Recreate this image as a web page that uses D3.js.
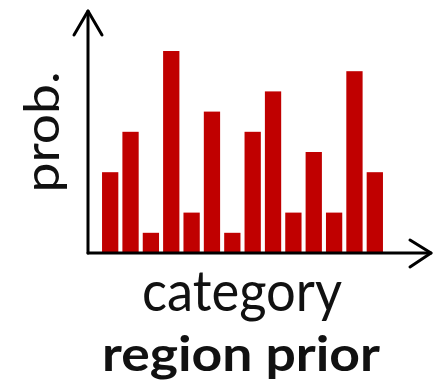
<!DOCTYPE html>
<html>
<head>
<meta charset="utf-8">
<script src="https://cdn.jsdelivr.net/npm/d3@7"></script>
<style>
  html, body { margin: 0; padding: 0; background: #fff; }
  svg { display: block; }
  text { font-family: Lato, "Open Sans", sans-serif; fill: #111; }
</style>
</head>
<body>
<svg id="chart" width="436" height="383"></svg>
<script>
// Category prior: relative probability of each region category
const categories = ["c1","c2","c3","c4","c5","c6","c7","c8","c9","c10","c11","c12","c13","c14"];
const probValues = [4, 6, 1, 10, 2, 7, 1, 6, 8, 2, 5, 2, 9, 4];
const yLabel = "prob.";
const xLabel = "category";
const title = "region prior";

const svg = d3.select("#chart");
const barColor = "#c00000";

const x = d3.scaleBand()
  .domain(categories)
  .range([100, 385])
  .paddingInner(0.2)
  .paddingOuter(0.1);

const y = d3.scaleLinear()
  .domain([0, 10])
  .range([253, 51]);

// bars
svg.append("g")
  .selectAll("rect")
  .data(probValues)
  .join("rect")
  .attr("x", (d, i) => x(categories[i]))
  .attr("width", x.bandwidth())
  .attr("y", d => y(d))
  .attr("height", d => y(0) - y(d))
  .attr("fill", barColor);

// axes drawn as arrows
const ox = 88, oy = y(0);
const axes = svg.append("g")
  .attr("fill", "none")
  .attr("stroke", "#000")
  .attr("stroke-width", 3)
  .attr("stroke-linecap", "round")
  .attr("stroke-linejoin", "round");

axes.append("path").attr("d", `M${ox},${oy} V11`);
axes.append("path").attr("d", `M74,35 L${ox},11 L102,35`);
axes.append("path").attr("d", `M${ox},${oy} H431`);
axes.append("path").attr("d", `M410,240 L431,${oy} L410,267`);

// labels
svg.append("text")
  .attr("transform", `translate(59,132) rotate(-90)`)
  .attr("text-anchor", "middle")
  .attr("font-size", 48)
  .attr("textLength", 121)
  .attr("lengthAdjust", "spacingAndGlyphs")
  .text(yLabel);

svg.append("text")
  .attr("x", 242)
  .attr("y", 311)
  .attr("text-anchor", "middle")
  .attr("font-size", 57)
  .attr("textLength", 200)
  .attr("lengthAdjust", "spacingAndGlyphs")
  .text(xLabel);

svg.append("text")
  .attr("x", 241)
  .attr("y", 371)
  .attr("text-anchor", "middle")
  .attr("font-size", 48)
  .attr("font-weight", "bold")
  .attr("textLength", 278)
  .attr("lengthAdjust", "spacingAndGlyphs")
  .text(title);
</script>
</body>
</html>
